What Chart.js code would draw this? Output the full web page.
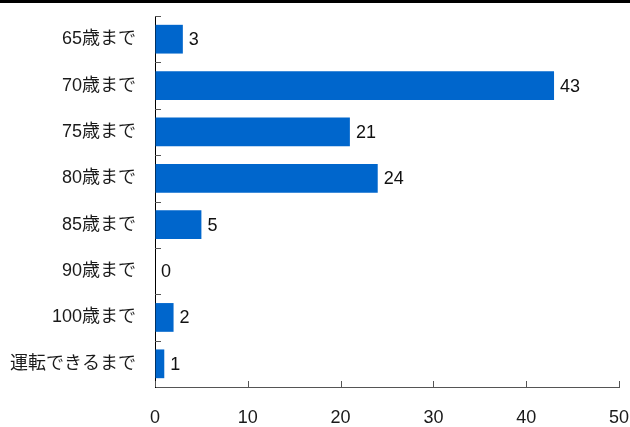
<!DOCTYPE html>
<html>
<head>
<meta charset="utf-8">
<script src="https://cdn.jsdelivr.net/npm/chart.js@4/dist/chart.umd.min.js"></script>
<style>
html,body{margin:0;padding:0;background:#fff;}
canvas{display:block;}
</style>
</head>
<body>
<canvas id="c" width="630" height="427"></canvas>
<script>
const categories = ["65歳まで","70歳まで","75歳まで","80歳まで","85歳まで","90歳まで","100歳まで","運転できるまで"];
const values = [3, 43, 21, 24, 5, 0, 2, 1];
const xTicks = [0, 10, 20, 30, 40, 50];

const FONT = "'Liberation Sans', Arial, 'Noto Sans CJK JP', sans-serif";

function zeroPad(s) {
  s.paddingTop = 0; s.paddingBottom = 0; s.paddingLeft = 0; s.paddingRight = 0;
}

const deco = {
  id: 'deco',
  beforeDraw(chart) {
    const ctx = chart.ctx;
    ctx.save();
    ctx.fillStyle = '#000';
    ctx.fillRect(0, 0, chart.width, 3);
    ctx.restore();
  },
  afterDraw(chart) {
    const ctx = chart.ctx;
    const xs = chart.scales.x, ys = chart.scales.y;
    ctx.save();
    ctx.strokeStyle = '#555';
    ctx.lineWidth = 1;
    xTicks.forEach(v => {
      const px = Math.round(xs.getPixelForValue(v)) + 0.5;
      ctx.beginPath();
      ctx.moveTo(px, xs.top);
      ctx.lineTo(px, xs.top - 6);
      ctx.stroke();
    });
    const n = categories.length;
    const step = (ys.bottom - ys.top) / n;
    for (let i = 0; i < n; i++) {
      const py = Math.round(ys.getPixelForTick(i) - step / 2) + 0.5;
      ctx.beginPath();
      ctx.moveTo(ys.right, py);
      ctx.lineTo(ys.right + 6, py);
      ctx.stroke();
    }
    const meta = chart.getDatasetMeta(0);
    ctx.fillStyle = '#111';
    ctx.font = '18px ' + FONT;
    ctx.textAlign = 'left';
    ctx.textBaseline = 'middle';
    meta.data.forEach((el, i) => {
      ctx.fillText(String(values[i]), el.x + 6, el.y + 1);
    });
    ctx.restore();
  }
};

new Chart(document.getElementById('c'), {
  type: 'bar',
  data: {
    labels: categories,
    datasets: [{
      data: values,
      backgroundColor: '#0066CC',
      borderWidth: 0,
      barPercentage: 0.62,
      categoryPercentage: 1.0
    }]
  },
  options: {
    indexAxis: 'y',
    responsive: false,
    animation: false,
    devicePixelRatio: 1,
    layout: { padding: { top: 16, right: 11, left: 0, bottom: 0 } },
    plugins: { legend: { display: false }, tooltip: { enabled: false } },
    scales: {
      x: {
        min: 0, max: 50,
        afterFit(s) { s.height = 40; zeroPad(s); },
        ticks: {
          stepSize: 10,
          padding: 20,
          color: '#1a1a1a',
          font: { family: FONT, size: 18 },
          maxRotation: 0
        },
        grid: { drawOnChartArea: false, drawTicks: false },
        border: { color: '#555', width: 1 }
      },
      y: {
        afterFit(s) { s.width = 155; zeroPad(s); },
        ticks: {
          padding: 19,
          color: '#1a1a1a',
          font: { family: FONT, size: 18 }
        },
        grid: { drawOnChartArea: false, drawTicks: false },
        border: { color: '#000', width: 1 }
      }
    }
  },
  plugins: [deco]
});
</script>
</body>
</html>
